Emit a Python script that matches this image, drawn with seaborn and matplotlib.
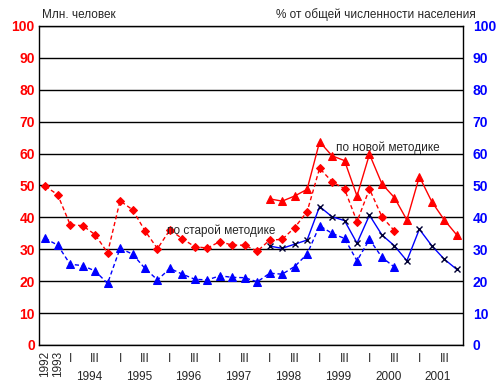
import pandas as pd
import matplotlib
matplotlib.use("Agg")
import matplotlib.pyplot as plt
import seaborn as sns

# Периоды: 1992, 1993 - годовые, далее по кварталам
years = list(range(1994, 2002))
quarters = ["I", "II", "III", "IV"]
periods = ["1992", "1993"] + [f"{y} {q}" for y in years for q in quarters]

# По старой методике (1992 - 2000 III кв.)
old_mln = [49.8, 47.1, 37.7, 37.4, 34.6, 28.9, 45.2, 42.4, 35.8, 30.2,
           36.1, 33.3, 30.8, 30.4, 32.4, 31.3, 31.3, 29.4, 32.9, 33.1,
           36.8, 41.8, 55.4, 51.2, 48.9, 38.7, 48.9, 40.2, 35.8]
old_pct = [33.4, 31.3, 25.3, 24.9, 23.2, 19.3, 30.3, 28.5, 24.0, 20.4,
           24.0, 22.2, 20.6, 20.4, 21.7, 21.2, 21.1, 19.8, 22.5, 22.2,
           24.6, 28.5, 37.4, 35.0, 33.4, 26.4, 33.1, 27.5, 24.4]

# По новой методике (1998 I кв. - 2001 IV кв.)
new_mln = [45.8, 45.1, 46.7, 48.8, 63.7, 59.3, 57.8, 46.7, 59.8, 50.5,
           46.2, 39.2, 52.8, 44.9, 39.2, 34.5]
new_pct = [31.0, 30.3, 31.6, 32.9, 43.4, 40.2, 39.0, 31.9, 40.7, 34.5,
           31.1, 26.4, 36.3, 31.1, 26.9, 23.7]

RED = "#ff0000"
BLUE = "#0000ff"

pos = {p: i for i, p in enumerate(periods)}
old_df = pd.DataFrame({"x": [pos[p] for p in periods[:len(old_mln)]],
                       "mln": old_mln, "pct": old_pct})
new_df = pd.DataFrame({"x": [pos[p] for p in periods[-len(new_mln):]],
                       "mln": new_mln, "pct": new_pct})

sns.set_style("white")
plt.rcParams["font.family"] = ["Liberation Sans", "DejaVu Sans"]

fig = plt.figure(figsize=(5.02, 3.91), dpi=100)
ax = fig.add_axes([39 / 502, 1 - 345 / 391, 424 / 502, 319 / 391])

dash = (0, (3, 2))
sns.lineplot(data=old_df, x="x", y="pct", ax=ax, color=BLUE, lw=1,
             linestyle=dash, marker="^", markersize=5.5,
             markeredgecolor=BLUE, errorbar=None, zorder=3)
sns.lineplot(data=old_df, x="x", y="mln", ax=ax, color=RED, lw=1,
             linestyle=dash, marker="D", markersize=4,
             markeredgecolor=RED, errorbar=None, zorder=3)
sns.lineplot(data=new_df, x="x", y="pct", ax=ax, color=BLUE, lw=1,
             marker="x", markersize=5, markeredgecolor="#000033",
             markeredgewidth=1, errorbar=None, zorder=4)
sns.lineplot(data=new_df, x="x", y="mln", ax=ax, color=RED, lw=1,
             marker="^", markersize=5.5, markeredgecolor=RED,
             errorbar=None, zorder=4)

ax.set_xlim(-0.5, len(periods) - 0.5)
ax.set_ylim(0, 100)
ax.set_yticks(range(0, 101, 10))
ax.yaxis.grid(True, color="black", lw=1)
ax.set_axisbelow(True)
ax.set_xlabel("")
ax.set_ylabel("")
for s in ax.spines.values():
    s.set_color("black")
    s.set_linewidth(1)

ax.tick_params(axis="y", length=0, pad=3, labelsize=10, labelcolor=RED)
for t in ax.get_yticklabels():
    t.set_fontweight("bold")

# Деления на оси X по границам периодов
ax.set_xticks([i + 0.5 for i in range(len(periods) - 1)])
ax.set_xticklabels([])
ax.tick_params(axis="x", direction="inout", length=6, width=1,
               color="black")

ax2 = ax.twinx()
ax2.set_ylim(0, 100)
ax2.set_yticks(range(0, 101, 10))
ax2.tick_params(axis="y", length=0, pad=7, labelsize=10, labelcolor=BLUE)
for t in ax2.get_yticklabels():
    t.set_fontweight("bold")
for s in ax2.spines.values():
    s.set_visible(False)

# Подписи оси X
xc = ("data", "axes fraction")
for i, p in enumerate(periods[:2]):
    ax.annotate(p, (i, 0), xycoords=xc, xytext=(0, -4),
                textcoords="offset points", rotation=90,
                ha="center", va="top", fontsize=8.5)
for y in years:
    start = pos[f"{y} I"]
    ax.annotate("I", (start, 0), xycoords=xc, xytext=(0, -10),
                textcoords="offset points", ha="center", va="center",
                fontsize=8.5)
    ax.annotate("III", (start + 2, 0), xycoords=xc, xytext=(0, -10),
                textcoords="offset points", ha="center", va="center",
                fontsize=8.5)
    ax.annotate(str(y), (start + 1.5, 0), xycoords=xc, xytext=(0, -23),
                textcoords="offset points", ha="center", va="center",
                fontsize=8.5)

fig.text(42 / 502, 1 - 15 / 391, "Млн. человек", ha="left",
         va="center", fontsize=8.5)
fig.text(476 / 502, 1 - 15 / 391, "% от общей численности населения",
         ha="right", va="center", fontsize=8.5)
ax.text(27.5, 61.8, "по новой методике", ha="center", va="center",
        fontsize=8.5)
ax.text(14.1, 35.8, "по старой методике", ha="center", va="center",
        fontsize=8.5)

fig.savefig("out.png", dpi=100)
